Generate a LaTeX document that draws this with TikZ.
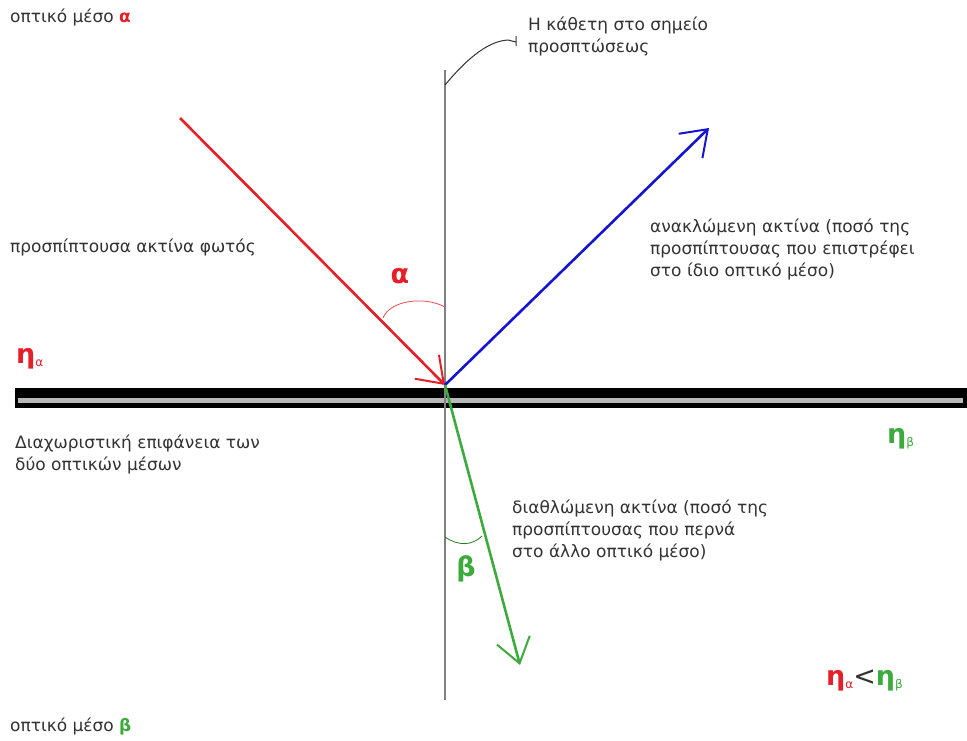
\documentclass[tikz,border=0pt]{standalone}
\usepackage{fontspec}
\setmainfont{DejaVu Sans}
\usetikzlibrary{arrows.meta}

\definecolor{raya}{RGB}{230,30,40}
\definecolor{rayb}{RGB}{20,20,210}
\definecolor{rayc}{RGB}{60,170,60}
\definecolor{txt}{RGB}{50,50,50}

\begin{document}
\begin{tikzpicture}[x=1pt,y=-1pt,
      lbl/.style={anchor=base west,inner sep=0pt,align=left,text=txt,
         font=\fontsize{17}{22}\selectfont},
      ray/.style={line width=2.6pt,
         -{Straight Barb[length=24pt,width=34pt,line width=2pt]}},
      sym/.style={inner sep=0pt,font=\fontsize{27}{27}\selectfont\bfseries}]
   \useasboundingbox (0,0) rectangle (967,740);

   % the two media and the boundary
   \fill [black] (15,388) rectangle (967,408);
   \fill [gray!55] (18,398) rectangle (963,403);

   \coordinate (O) at (445,385);
   \coordinate (ntop) at (445,70);
   \coordinate (nbot) at (445,700);
   \coordinate (hook) at (445,85);
   \draw [gray,line width=2pt] (ntop) -- (nbot);

   \coordinate (src) at (180,118);
   \coordinate (refl) at (709,128);
   \coordinate (refr) at (520,665);
   \draw [ray,raya] (src) -- (O);
   \draw [ray,rayb] (O) -- (refl);
   \draw [ray,rayc] (O) -- (refr);

   % angles
   \draw [raya!80,line width=0.8pt]
      (383,318) .. controls (390,300) and (425,296) .. (445,307);
   \draw [rayc!70!black,line width=0.8pt]
      (445,537) .. controls (458,546) and (472,546) .. (482,536);
   \node [sym,text=raya,anchor=base] (angA) at (400,283) {α};
   \node [sym,text=rayc,anchor=base] (angB) at (466,576) {β};

   % labels
   \node [lbl] (medA) at (10,22) {οπτικό μέσο {\bfseries\color{raya}α}};
   \node [lbl] (medB) at (10,731) {οπτικό μέσο {\bfseries\color{rayc}β}};
   \node [lbl] (nlabel) at (528,52) {Η κάθετη στο σημείο\\προσπτώσεως};
   \draw [gray!40!black,line width=1pt] (hook)
      .. controls (470,55) and (490,41) .. (508,40) -- (516,42)
      (516,36) -- (516,46);
   \node [lbl] (inc) at (10,252) {προσπίπτουσα ακτίνα φωτός};
   \node [lbl] (reflbl) at (650,276)
      {ανακλώμενη ακτίνα (ποσό της\\προσπίπτουσας που επιστρέφει\\στο ίδιο οπτικό μέσο)};
   \node [lbl] (bound) at (15,470) {Διαχωριστική επιφάνεια των\\δύο οπτικών μέσων};
   \node [lbl] (refrlbl) at (512,557)
      {διαθλώμενη ακτίνα (ποσό της\\προσπίπτουσας που περνά\\στο άλλο οπτικό μέσο)};

   % refractive indices
   \node [sym,text=raya,anchor=base west] (na) at (16,363)
      {η\raisebox{-3pt}{\fontsize{12}{12}\selectfont\mdseries α}};
   \node [sym,text=rayc,anchor=base west] (nb) at (887,443)
      {η\raisebox{-3pt}{\fontsize{12}{12}\selectfont\mdseries β}};
   \node [sym,anchor=base west] (cmp) at (826,685)
      {\color{raya}η\raisebox{-3pt}{\fontsize{12}{12}\selectfont\mdseries α}\color{txt}{\mdseries<}\color{rayc}η\raisebox{-3pt}{\fontsize{12}{12}\selectfont\mdseries β}};
\end{tikzpicture}
\end{document}
